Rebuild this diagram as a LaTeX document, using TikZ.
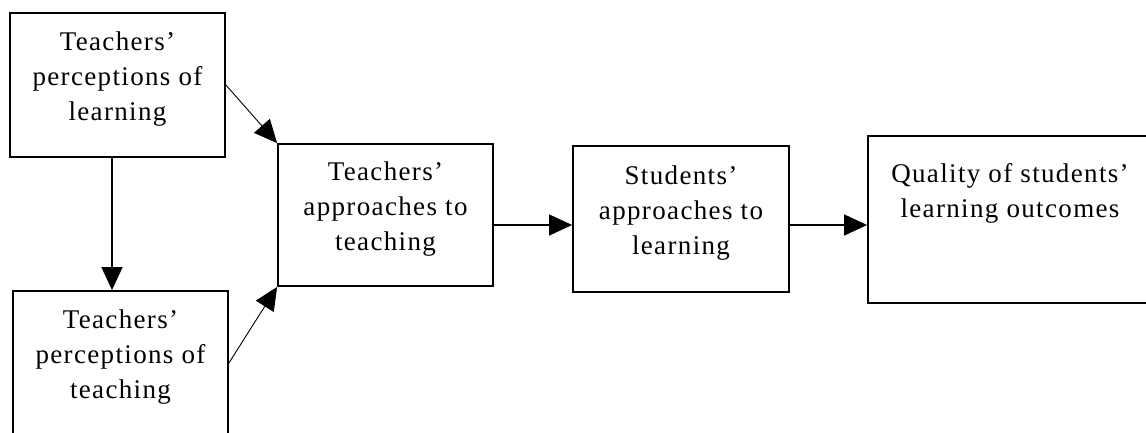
\documentclass[tikz,border=0pt]{standalone}
\usepackage{fontspec}
\setmainfont[LetterSpace=5]{Liberation Serif}
\usetikzlibrary{arrows.meta}

\begin{document}
\begin{tikzpicture}[x=1pt, y=1pt,
    box/.style={draw, line width=1.8pt, inner sep=0pt, align=center,
                font=\fontsize{27}{35}\selectfont, text depth=17pt},
    link/.style={line width=1.4pt, -{Triangle[length=23pt, width=21pt]}},
    slant/.style={link, line width=0.9pt}]
\path[use as bounding box, clip] (0,0) rectangle (1146,432);
% boxes
\node[box, minimum width=215pt, minimum height=144pt] (perclearn) at (117.5,347) {Teachers'\\perceptions of\\learning};
\node[box, minimum width=215pt, minimum height=144pt] (percteach) at (120.5,69) {Teachers'\\perceptions of\\teaching};
\node[box, minimum width=215pt, minimum height=142pt] (teachappr) at (385.5,217) {Teachers'\\approaches to\\teaching};
\node[box, minimum width=216pt, minimum height=146pt] (studappr) at (681,213) {Students'\\approaches to\\learning};
\node[box, minimum width=284pt, minimum height=167pt, text depth=58pt] (outcomes) at (1010,212.5) {Quality of students'\\learning outcomes};
% connectors
\coordinate (colline) at (112,0);
\coordinate (rowline) at (0,207);
\draw[link] (perclearn.south -| colline) -- (percteach.north -| colline);
\draw[slant] (perclearn.east) -- (teachappr.north west);
\draw[slant] (percteach.east) -- (teachappr.south west);
\draw[link] (teachappr.east |- rowline) -- (studappr.west |- rowline);
\draw[link] (studappr.east |- rowline) -- (outcomes.west |- rowline);
\end{tikzpicture}
\end{document}
